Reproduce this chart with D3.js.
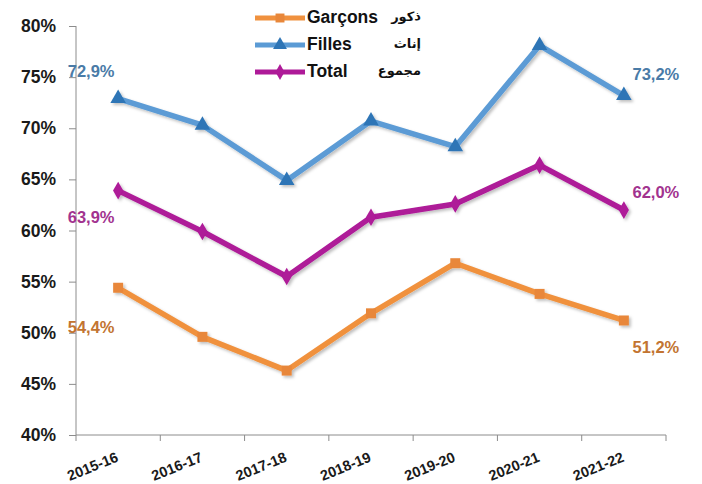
<!DOCTYPE html>
<html>
<head>
<meta charset="utf-8">
<script src="https://cdn.jsdelivr.net/npm/d3@7"></script>
<style>
  body { margin: 0; background: #fff; }
  text { font-family: "Liberation Sans", Arial, "DejaVu Sans", sans-serif; font-weight: bold; }
</style>
</head>
<body>
<script>
// chart data
const years = ["2015-16", "2016-17", "2017-18", "2018-19", "2019-20", "2020-21", "2021-22"];
const garcons = [54.4, 49.6, 46.3, 51.9, 56.8, 53.8, 51.2];
const filles = [72.9, 70.3, 64.9, 70.7, 68.2, 78.1, 73.2];
const total = [63.9, 59.9, 55.5, 61.3, 62.6, 66.4, 62.0];
const yTicks = [40, 45, 50, 55, 60, 65, 70, 75, 80];

// series description (names + styles)
const series = [
  { fr: "Garçons", ar: "ذكور", values: garcons, line: "#F0913E", mark: "#E8873A", label: "#C27431", symbol: d3.symbolSquare, size: 100 },
  { fr: "Filles", ar: "إناث", values: filles, line: "#5B9BD5", mark: "#2E75B6", label: "#4A7BA7", symbol: d3.symbolTriangle, size: 105 },
  { fr: "Total", ar: "مجموع", values: total, line: "#AE1A98", mark: "#AE1A98", label: "#A2338F", symbol: d3.symbolDiamond, size: 90 }
];

const width = 702, height = 484;
const margin = { top: 26, right: 36, bottom: 49, left: 76 };

const svg = d3.select("body").append("svg")
  .attr("width", width)
  .attr("height", height);

// soft shadow like the office chart
const defs = svg.append("defs");
defs.append("filter")
  .attr("id", "shadow")
  .attr("x", "-10%").attr("y", "-10%")
  .attr("width", "130%").attr("height", "130%")
  .append("feDropShadow")
  .attr("dx", 2).attr("dy", 2)
  .attr("stdDeviation", 1.5)
  .attr("flood-color", "#000")
  .attr("flood-opacity", 0.25);

const x = d3.scalePoint()
  .domain(years)
  .range([margin.left, width - margin.right])
  .padding(0.5);

const y = d3.scaleLinear()
  .domain([40, 80])
  .range([height - margin.bottom, margin.top]);

// y axis
const yAxis = svg.append("g")
  .attr("transform", `translate(${margin.left},0)`)
  .call(d3.axisLeft(y).tickValues(yTicks).tickSize(7).tickFormat(d => d + "%"));
yAxis.selectAll("path, line").attr("stroke", "#8c8c8c");
yAxis.select(".domain").attr("d", `M0,${y(80)}V${y(40)}`);
yAxis.selectAll("text")
  .attr("x", -20)
  .attr("fill", "#1a1a1a")
  .style("font-size", "17.5px");

// x axis with boundary ticks between categories
const step = x.step();
const xAxis = svg.append("g")
  .attr("transform", `translate(0,${y(40)})`);
xAxis.append("line")
  .attr("x1", margin.left).attr("x2", width - margin.right)
  .attr("stroke", "#8c8c8c");
xAxis.selectAll(".bound")
  .data(d3.range(years.length + 1))
  .join("line")
  .attr("x1", i => margin.left + i * step)
  .attr("x2", i => margin.left + i * step)
  .attr("y1", 0).attr("y2", 6)
  .attr("stroke", "#8c8c8c");
xAxis.selectAll(".lab")
  .data(years)
  .join("text")
  .attr("text-anchor", "end")
  .attr("transform", d => `translate(${x(d) + 1},${26}) rotate(-22)`)
  .attr("fill", "#1a1a1a")
  .style("font-size", "14.5px")
  .text(d => d);

// lines
const line = d3.line()
  .x((d, i) => x(years[i]))
  .y(d => y(d));

series.forEach(s => {
  const g = svg.append("g").attr("filter", "url(#shadow)");
  g.append("path")
    .datum(s.values)
    .attr("d", line)
    .attr("fill", "none")
    .attr("stroke", s.line)
    .attr("stroke-width", 5.5)
    .attr("stroke-linejoin", "round");
  g.selectAll("path.mk")
    .data(s.values)
    .join("path")
    .attr("class", "mk")
    .attr("transform", (d, i) => `translate(${x(years[i])},${y(d)})`)
    .attr("d", d3.symbol().type(s.symbol).size(s.size))
    .attr("fill", s.mark);
});

// value labels at first and last year
const fmt = v => v.toFixed(1).replace(".", ",") + "%";
const labelOffsets = [
  { first: [-27, 41], last: [32, 28] },
  { first: [-27, -26], last: [32, -20] },
  { first: [-27, 28], last: [32, -16] }
];
series.forEach((s, k) => {
  const n = s.values.length - 1;
  [[0, labelOffsets[k].first], [n, labelOffsets[k].last]].forEach(([i, off]) => {
    svg.append("text")
      .attr("x", x(years[i]) + off[0])
      .attr("y", y(s.values[i]) + off[1])
      .attr("text-anchor", "middle")
      .attr("dominant-baseline", "middle")
      .attr("fill", s.label)
      .style("font-size", "16.5px")
      .text(fmt(s.values[i]));
  });
});

// legend
const legend = svg.append("g");
series.forEach((s, k) => {
  const ly = 18 + k * 27;
  legend.append("line")
    .attr("x1", 255).attr("x2", 305)
    .attr("y1", ly).attr("y2", ly)
    .attr("stroke", s.line)
    .attr("stroke-width", 5);
  legend.append("path")
    .attr("transform", `translate(280,${ly})`)
    .attr("d", d3.symbol().type(s.symbol).size(s.size * 0.8))
    .attr("fill", s.mark);
  legend.append("text")
    .attr("x", 307).attr("y", ly)
    .attr("dominant-baseline", "middle")
    .attr("fill", "#111")
    .style("font-size", "17.5px")
    .text(s.fr);
  legend.append("text")
    .attr("x", 421).attr("y", ly)
    .attr("text-anchor", "end")
    .attr("dominant-baseline", "middle")
    .attr("fill", "#111")
    .style("font-size", "13px")
    .text(s.ar);
});
</script>
</body>
</html>
